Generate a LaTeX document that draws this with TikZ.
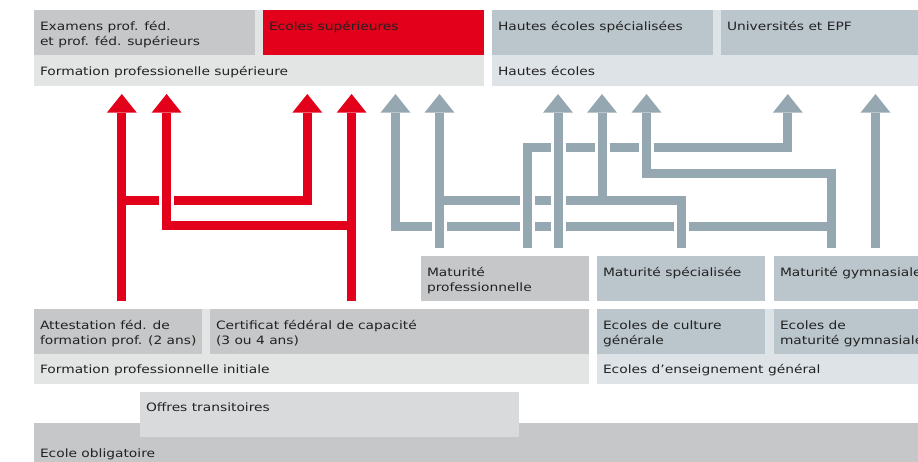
\documentclass[tikz,border=0pt]{standalone}
\usepackage{fontspec}
\setmainfont[FakeStretch=1.2]{DejaVu Sans}
\usetikzlibrary{arrows.meta}
\definecolor{boxgray}{HTML}{C6C7C8}
\definecolor{rowgray}{HTML}{E3E4E4}
\definecolor{esred}{HTML}{E2001A}
\definecolor{boxblue}{HTML}{BAC5CC}
\definecolor{rowblue}{HTML}{DEE3E7}
\definecolor{arrgray}{HTML}{95A7B1}
\definecolor{transgray}{HTML}{D9DADB}
\definecolor{txt}{HTML}{222222}
\begin{document}
\begin{tikzpicture}[x=1pt,y=-1pt,
  blk/.style 2 args={draw=none, inner sep=0pt, outer sep=0pt, anchor=north west,
    minimum width=#1, minimum height=#2},
  lbl/.style={anchor=north west, inner sep=0pt, outer sep=0pt, align=left,
    font=\fontsize{11.5}{14.6}\selectfont, text=txt},
  flow/.style={line width=9pt, shorten >=8pt,
    -{Triangle[width=30pt,length=18.7pt,line width=0pt]}},
  link/.style={line width=9pt},
  frombox/.style={shorten <=8pt},
  redflow/.style={flow, draw=esred, color=esred},
  grayflow/.style={flow, draw=arrgray, color=arrgray}]
\useasboundingbox (0,0) rectangle (918,461);
\clip (0,0) rectangle (918,461);

% ---------- top level ----------
\node[blk={450pt}{76pt}, fill=rowgray] (fps) at (34,10) {};
\node[blk={221pt}{45pt}, fill=boxgray] (exam) at (34,10) {};
\node[blk={221pt}{45pt}, fill=esred] (es) at (263,10) {};
\node[blk={440pt}{76pt}, fill=rowblue] (he) at (492,10) {};
\node[blk={221pt}{45pt}, fill=boxblue] (hes) at (492,10) {};
\node[blk={212pt}{45pt}, fill=boxblue] (univ) at (721,10) {};

\node[lbl] (exam-t) at ([shift={(6pt,-10.3pt)}]exam.north west) {\strut Examens prof. féd.\\et prof. féd. supérieurs};
\node[lbl] (es-t) at ([shift={(6pt,-10.3pt)}]es.north west) {\strut Ecoles supérieures};
\node[lbl] (hes-t) at ([shift={(6pt,-10.3pt)}]hes.north west) {\strut Hautes écoles spécialisées};
\node[lbl] (univ-t) at ([shift={(6pt,-10.3pt)}]univ.north west) {\strut Universités et EPF};
\node[lbl] (fps-t) at ([shift={(6pt,21.2pt)}]fps.south west) {\strut Formation professionelle supérieure};
\node[lbl] (he-t) at ([shift={(6pt,21.2pt)}]he.south west) {\strut Hautes écoles};

% ---------- middle level ----------
\node[blk={168pt}{45pt}, fill=boxgray] (mprof) at (421,256) {};
\node[blk={168pt}{45pt}, fill=boxblue] (mspec) at (597,256) {};
\node[blk={160pt}{45pt}, fill=boxblue] (mgym) at (774,256) {};
\node[lbl] (mprof-t) at ([shift={(6pt,-10.3pt)}]mprof.north west) {\strut Maturité\\professionnelle};
\node[lbl] (mspec-t) at ([shift={(6pt,-10.3pt)}]mspec.north west) {\strut Maturité spécialisée};
\node[lbl] (mgym-t) at ([shift={(6pt,-10.3pt)}]mgym.north west) {\strut Maturité gymnasiale};

% ---------- lower level ----------
\node[blk={555pt}{75pt}, fill=rowgray] (fpi) at (34,309) {};
\node[blk={168pt}{45pt}, fill=boxgray] (att) at (34,309) {};
\node[blk={379pt}{45pt}, fill=boxgray] (cfc) at (210,309) {};
\node[blk={335pt}{75pt}, fill=rowblue] (eeg) at (597,309) {};
\node[blk={168pt}{45pt}, fill=boxblue] (ecg) at (597,309) {};
\node[blk={160pt}{45pt}, fill=boxblue] (emg) at (774,309) {};
\node[lbl] (att-t) at ([shift={(6pt,-10.3pt)}]att.north west) {\strut Attestation féd. de\\formation prof. (2 ans)};
\node[lbl] (cfc-t) at ([shift={(6pt,-10.3pt)}]cfc.north west) {\strut Certificat fédéral de capacité\\(3 ou 4 ans)};
\node[lbl] (ecg-t) at ([shift={(6pt,-10.3pt)}]ecg.north west) {\strut Ecoles de culture\\générale};
\node[lbl] (emg-t) at ([shift={(6pt,-10.3pt)}]emg.north west) {\strut Ecoles de\\maturité gymnasiale};
\node[lbl] (fpi-t) at ([shift={(6pt,21.2pt)}]fpi.south west) {\strut Formation professionnelle initiale};
\node[lbl] (eeg-t) at ([shift={(6pt,21.2pt)}]eeg.south west) {\strut Ecoles d’enseignement général};

% ---------- base ----------
\node[blk={900pt}{50pt}, fill=boxgray] (oblig) at (34,423) {};
\node[blk={379pt}{45pt}, fill=transgray] (trans) at (140,392) {};
\node[lbl] (trans-t) at ([shift={(6pt,-9pt)}]trans.north west) {\strut Offres transitoires};
\node[lbl] (oblig-t) at ([shift={(6pt,-23.8pt)}]oblig.north west) {\strut Ecole obligatoire};

% ---------- columns and levels ----------
\coordinate (r1) at (121.8,0);  \coordinate (r2) at (166.6,0);
\coordinate (r3) at (307.3,0);  \coordinate (r4) at (351.6,0);
\coordinate (g1) at (395.5,0);  \coordinate (g2) at (439.5,0);
\coordinate (v1) at (527.8,0);  \coordinate (g3) at (558,0);
\coordinate (g4) at (602,0);    \coordinate (g5) at (646.5,0);
\coordinate (v2) at (681.2,0);  \coordinate (g6) at (787.8,0);
\coordinate (v3) at (831.7,0);  \coordinate (g7) at (875.5,0);
\coordinate (h1) at (0,147.2);  \coordinate (h4) at (0,173.8);
\coordinate (h2) at (0,200.5);  \coordinate (h3) at (0,226.2);
\coordinate (ya) at (0,200.5);  \coordinate (yb) at (0,225.8);

% ---------- red connectors ----------
\draw[redflow, frombox] (r1 |- att.north) -- (r1 |- fps.south);
\draw[redflow] (r1 |- ya) -- (r3 |- ya) -- (r3 |- fps.south);
\draw[redflow, frombox] (r4 |- cfc.north) -- (r4 |- fps.south);
\draw[redflow] (r4 |- yb) -- (r2 |- yb) -- (r2 |- fps.south);

% ---------- grey connectors ----------
\draw[grayflow, frombox] (g2 |- mprof.north) -- (g2 |- fps.south);
\draw[grayflow, frombox] (v1 |- mprof.north) -- (v1 |- h1) -- (g6 |- h1) -- (g6 |- he.south);
\draw[grayflow, frombox] (g3 |- mprof.north) -- (g3 |- he.south);
\draw[link, draw=arrgray, frombox] (v2 |- mspec.north) -- (v2 |- h2) -- (g2 |- h2);
\draw[grayflow] (g4 |- h2) -- (g4 |- he.south);
\draw[grayflow, frombox] (v3 |- mgym.north) -- (v3 |- h4) -- (g5 |- h4) -- (g5 |- he.south);
\draw[grayflow] (v3 |- h3) -- (g1 |- h3) -- (g1 |- fps.south);
\draw[grayflow, frombox] (g7 |- mgym.north) -- (g7 |- he.south);

% ---------- bridges where a vertical passes over a horizontal ----------
\foreach \c/\r/\col in {r2/ya/esred, g2/h3/arrgray, v1/h3/arrgray, g3/h3/arrgray,
    v2/h3/arrgray, v1/h2/arrgray, g3/h2/arrgray, g3/h1/arrgray, g4/h1/arrgray,
    g5/h1/arrgray} {
  \path (\c |- \r) coordinate (X);
  \fill[white] ([shift={(-7.5pt,-5.6pt)}]X) rectangle ([shift={(7.5pt,5.6pt)}]X);
  \fill[\col] ([shift={(-4.5pt,-6.2pt)}]X) rectangle ([shift={(4.5pt,6.2pt)}]X);
}
\end{tikzpicture}
\end{document}
